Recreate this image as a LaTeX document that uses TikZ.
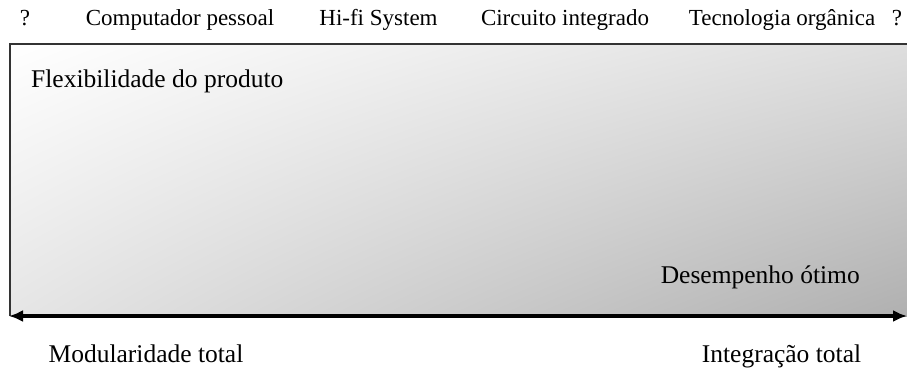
\documentclass[tikz,border=0pt]{standalone}
\usepackage{fontspec}
\setmainfont{Liberation Serif}
\usetikzlibrary{arrows.meta,shadings}
\begin{document}
\begin{tikzpicture}[x=1pt,y=-1pt,
  lbl/.style={font=\fontsize{23}{26}\selectfont, inner sep=0pt, anchor=base},
  big/.style={font=\fontsize{25.5}{29}\selectfont, inner sep=0pt, anchor=base}]
\useasboundingbox (0,0) rectangle (907,368);
\shade[upper left=white, upper right={black!13}, lower left={black!10}, lower right={black!31}]
  (10,44) rectangle (907,316);
\draw[line width=1.5pt, black!80] (10,316) -- (10,44) -- (907,44);
\coordinate (L) at (9,316);
\coordinate (R) at (907,316);
\draw[line width=3.2pt, {Latex[length=14pt,width=12pt]}-{Latex[length=14pt,width=12pt]}] (L) -- (R);
\node[lbl] (q1) at (25,25) {?};
\node[lbl] (pc) at (180,25) {Computador pessoal};
\node[lbl] (hf) at (378.5,25) {Hi-fi System};
\node[lbl] (ci) at (565,25) {Circuito integrado};
\node[lbl] (to) at (782,25) {Tecnologia orgânica};
\node[lbl] (q2) at (897,25) {?};
\node[big, anchor=base west] (fp) at (31,87) {Flexibilidade do produto};
\node[big, anchor=base east] (de) at (860,283) {Desempenho ótimo};
\node[big] (mt) at (146,362) {Modularidade total};
\node[big] (it) at (781.5,362) {Integração total};
\end{tikzpicture}
\end{document}
